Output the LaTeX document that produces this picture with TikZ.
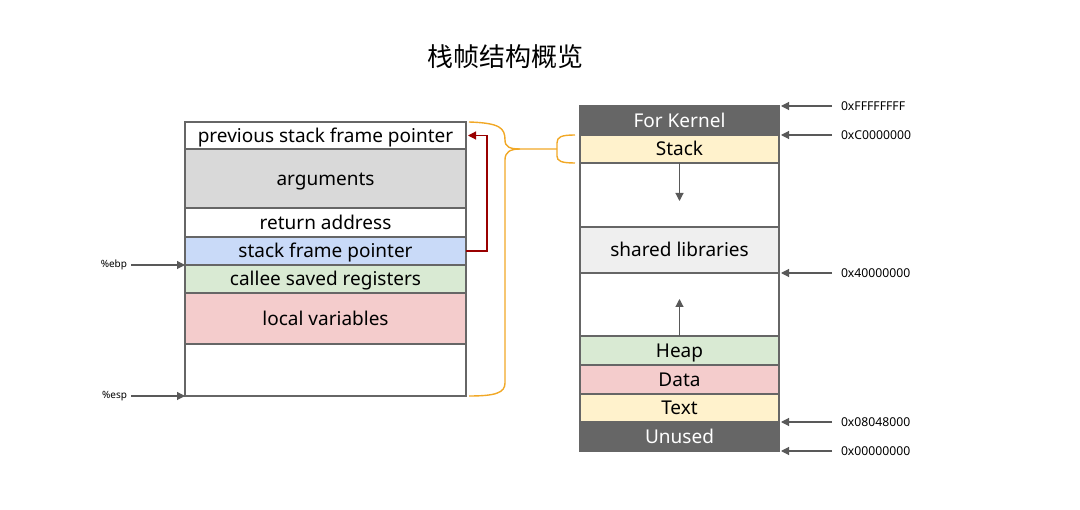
\documentclass[tikz,border=0pt]{standalone}
\usepackage{fontspec}
\setmainfont{Noto Sans}
\newfontfamily\cjk{Noto Sans CJK SC}
\usetikzlibrary{arrows.meta}
\definecolor{cellline}{HTML}{666666}
\definecolor{darkcell}{HTML}{666666}
\definecolor{argfill}{HTML}{D9D9D9}
\definecolor{bluefill}{HTML}{C9DAF8}
\definecolor{greenfill}{HTML}{D9EAD3}
\definecolor{pinkfill}{HTML}{F4CCCC}
\definecolor{yellowfill}{HTML}{FFF2CC}
\definecolor{libfill}{HTML}{EFEFEF}
\definecolor{arrowgray}{HTML}{595959}
\definecolor{linkred}{HTML}{990000}
\definecolor{braceorange}{HTML}{F1A826}
\begin{document}
\begin{tikzpicture}[x=1pt, y=-1pt,
  every node/.style={align=center, inner sep=0pt, outer sep=0pt},
  cell/.style={draw=cellline, line width=1.3pt, font=\fontsize{19}{22}\selectfont, text height=15pt, text depth=1pt},
  lcell/.style={cell, minimum width=281pt},
  rcell/.style={cell, minimum width=199pt},
  addr/.style={font=\fontsize{12.2}{14}\selectfont},
  reg/.style={font=\fontsize{10}{12}\selectfont},
  ptr/.style={draw=arrowgray, line width=1.1pt, -{Triangle[length=8pt, width=8pt]}}]
\useasboundingbox (0,0) rectangle (1080,510);

\node[font=\cjk\fontsize{26}{30}\selectfont] at (505,57) (title) {栈帧结构概览};

% stack frame
\node[lcell, fill=white, minimum height=27pt] at (325.5,135.5) (prev) {previous stack frame pointer};
\node[lcell, fill=argfill, minimum height=59pt] at (325.5,178.5) (args) {arguments};
\node[lcell, fill=white, minimum height=29pt] at (325.5,222.5) (ret) {return address};
\node[lcell, fill=bluefill, minimum height=28pt] at (325.5,251) (sfp) {stack frame pointer};
\node[lcell, fill=greenfill, minimum height=28pt] at (325.5,279) (callee) {callee saved registers};
\node[lcell, fill=pinkfill, minimum height=51pt] at (325.5,318.5) (locals) {local variables};
\node[lcell, fill=white, minimum height=52pt] at (325.5,370) (free) {};

\node[reg, anchor=east] at (127,265) (ebp) {\%ebp};
\node[reg, anchor=east] at (127,396) (esp) {\%esp};
\draw[ptr] ([xshift=4pt]ebp.east) -- (sfp.south west);
\draw[ptr] ([xshift=4pt]esp.east) -- (free.south west);

\draw[linkred, line width=1.1pt, -{Triangle[length=8pt, width=8pt]}] (sfp.east) -- ++(21,0) |- ([xshift=2pt]prev.east);

% process memory
\node[rcell, fill=darkcell, text=white, minimum height=29pt] at (679.5,120.5) (kernel) {For Kernel};
\node[rcell, fill=yellowfill, minimum height=28pt] at (679.5,149) (stack) {Stack};
\node[rcell, fill=white, minimum height=64pt] at (679.5,195) (gapa) {};
\node[rcell, fill=libfill, minimum height=46pt] at (679.5,250) (libs) {shared libraries};
\node[rcell, fill=white, minimum height=63pt] at (679.5,304.5) (gapb) {};
\node[rcell, fill=greenfill, minimum height=29pt] at (679.5,350.5) (heap) {Heap};
\node[rcell, fill=pinkfill, minimum height=29pt] at (679.5,379.5) (data) {Data};
\node[rcell, fill=yellowfill, minimum height=28pt] at (679.5,408) (text) {Text};
\node[rcell, fill=darkcell, text=white, minimum height=29pt] at (679.5,436.5) (unused) {Unused};

\draw[ptr] (gapa.north) -- ++(0,38);
\draw[ptr] (gapb.south) -- ++(0,-37);

\node[addr, anchor=west] at (841,106) (aff) {0xFFFFFFFF};
\node[addr, anchor=west] at (841,135) (ac0) {0xC0000000};
\node[addr, anchor=west] at (841,273) (a40) {0x40000000};
\node[addr, anchor=west] at (841,422) (a08) {0x08048000};
\node[addr, anchor=west] at (841,451) (a00) {0x00000000};
\draw[ptr] ([xshift=-9pt]aff.west) -- ([xshift=2pt]kernel.north east);
\draw[ptr] ([xshift=-9pt]ac0.west) -- ([xshift=2pt]stack.north east);
\draw[ptr] ([xshift=-9pt]a40.west) -- ([xshift=2pt]gapb.north east);
\draw[ptr] ([xshift=-9pt]a08.west) -- ([xshift=2pt]unused.north east);
\draw[ptr] ([xshift=-9pt]a00.west) -- ([xshift=2pt]unused.south east);

% braces
\coordinate (tip) at (520,149);
\draw[braceorange, line width=1.4pt] ([xshift=3pt]prev.north east) .. controls (500,123) and (505,128) .. (505,140) .. controls (505,147) and (510,149) .. (tip) -- (557,149);
\draw[braceorange, line width=1.4pt] (tip) .. controls (510,149) and (505,152) .. (505,160) -- (505,383) .. controls (505,393) and (495,396) .. ([xshift=3pt]free.south east);
\draw[braceorange, line width=1.4pt] ([xshift=-5pt]stack.north west) .. controls (561,135) and (557,137) .. (557,143) -- (557,156) .. controls (557,161) and (561,163) .. ([xshift=-5pt]stack.south west);
\end{tikzpicture}
\end{document}
